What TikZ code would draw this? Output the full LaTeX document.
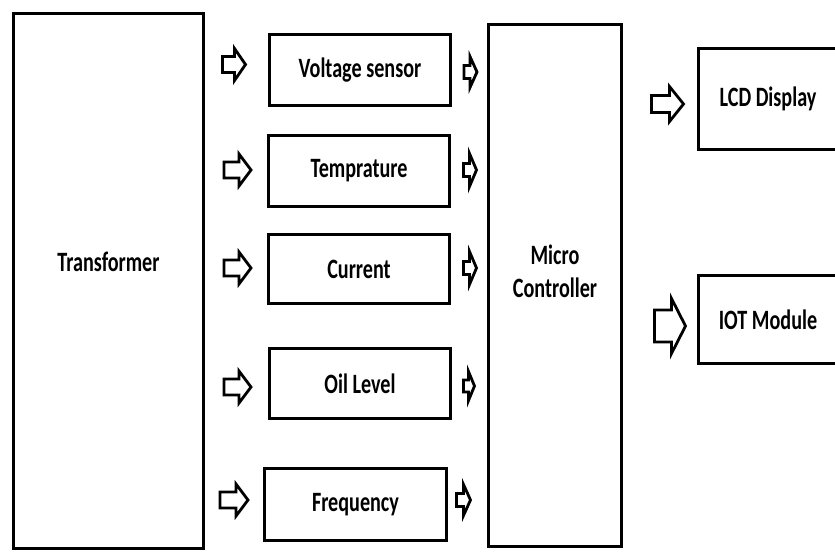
\documentclass[tikz,border=0pt]{standalone}
\usepackage{fontspec}
\setmainfont[FakeStretch=0.72]{Carlito}
\usetikzlibrary{positioning}
\tikzset{
    block/.style={rectangle, draw=black, fill=white, line width=3pt, align=center, inner sep=0pt, font=\bfseries\fontsize{28}{33}\selectfont},
    arrowline/.style={draw=black, fill=white, line width=2.8pt, line join=miter},
    pics/blockarrow/.style n args={4}{code={
        \path[arrowline] (0,-#4) -- (#1-#2,-#4) -- (#1-#2,-#3) -- (#1,0) -- (#1-#2,#3) -- (#1-#2,#4) -- (0,#4) -- cycle;
    }}
}
\begin{document}
\begin{tikzpicture}[x=1pt, y=-1pt]
        \clip (0,0) rectangle (835,552);
        \fill[white] (0,0) rectangle (835,552);

        \node (trans) [block, minimum width=190pt, minimum height=535pt, text depth=38pt] at (108.5,281) {Transformer};
        \node (volt) [block, minimum width=181pt, minimum height=71pt] at (360,70) {Voltage sensor};
        \node (temp) [block, minimum width=181pt, minimum height=71pt] at (359,171) {Temprature};
        \node (curr) [block, minimum width=181pt, minimum height=69pt] at (359,269) {Current};
        \node (oil) [block, minimum width=181pt, minimum height=70pt] at (360,383.5) {Oil Level};
        \node (freq) [block, minimum width=182pt, minimum height=72pt] at (355.5,504.5) {Frequency};
        \node (mcu) [block, minimum width=133pt, minimum height=522pt, text depth=28pt] at (555,285.5) {Micro\\Controller};
        \node (lcd) [block, minimum width=140pt, minimum height=101pt] at (768,99) {LCD Display};
        \node (iot) [block, minimum width=140pt, minimum height=88pt] at (768,319.5) {IOT Module};

        % Input arrows
        \pic (voltin) at (222.5,64.5) {blockarrow={23}{11}{16}{8}};
        \pic (tempin) at (224,170) {blockarrow={27}{12}{16}{8}};
        \pic (currin) at (224,268) {blockarrow={27}{12}{16}{8}};
        \pic (oilin) at (224,387) {blockarrow={27}{12}{16}{8}};
        \pic (freqin) at (220,500) {blockarrow={28}{12}{16}{8}};

        % Output arrows
        \pic (voltout) at (464,72) {blockarrow={13}{7}{15.5}{6.5}};
        \pic (tempout) at (463.5,170) {blockarrow={13}{7}{16.5}{6.5}};
        \pic (currout) at (463.5,268) {blockarrow={13}{7}{16.5}{6.5}};
        \pic (oilout) at (463.5,386) {blockarrow={11}{6}{14.5}{6}};
        \pic (freqout) at (456.5,500) {blockarrow={14}{7}{15.5}{6.5}};

        % Display side
        \pic (lcdin) at (651.5,104) {blockarrow={32}{14}{17.5}{8.5}};
        \pic (iotin) at (654.5,326) {blockarrow={31}{14}{27.5}{16}};
    \end{tikzpicture}
\end{document}
